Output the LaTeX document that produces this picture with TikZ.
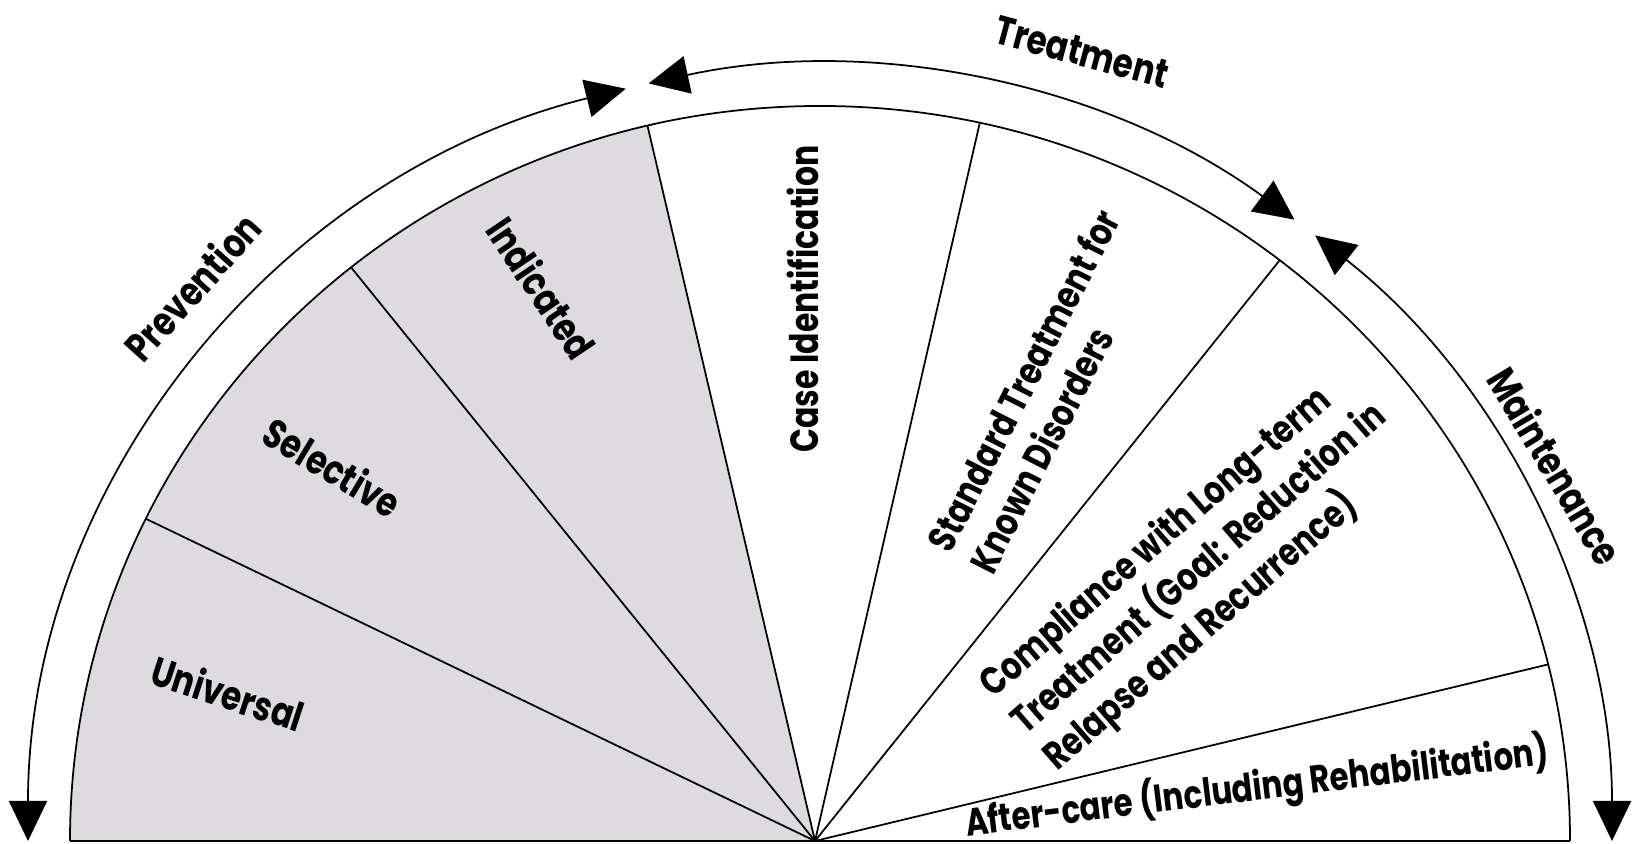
\documentclass[tikz,border=0pt]{standalone}
\usepackage{fontspec}
\setmainfont{Poppins}[FakeStretch=0.8]
\usetikzlibrary{calc,arrows.meta}
\definecolor{shadegray}{RGB}{221,219,224}

\begin{document}
\begin{tikzpicture}[
	lbl/.style={font=\bfseries\fontsize{11.5}{13.8}\selectfont, align=left, inner sep=0pt},
	spoke/.style={line width=0.5pt},
	span/.style={line width=0.5pt, {Triangle[length=4mm,width=3.8mm]}-{Triangle[length=4mm,width=3.8mm]}}
	]
	\useasboundingbox (0,0) rectangle (16.35,8.44);
	\coordinate (c) at (8.2,0.03);
	\coordinate (o) at (8.15,0.03);
	\coordinate (l) at ($(c)+(180:7.5 and 7.35)$);
	\coordinate (r) at ($(c)+(0:7.5 and 7.35)$);
	\foreach \a [count=\i] in {154,128.7,103.3,77.7,52.2,13.9}
		\coordinate (s\i) at ($(c)+(\a:7.5 and 7.35)$);
	\fill[shadegray] (o) -- (l) arc[start angle=180, end angle=103.3, x radius=7.5, y radius=7.35] -- cycle;
	\draw[spoke] (l) arc[start angle=180, end angle=0, x radius=7.5, y radius=7.35];
	\draw[spoke] (l) -- (r);
	\foreach \i in {1,...,6}
		\draw[spoke] (o) -- (s\i);
	\coordinate (p1) at ($(c)+(180:7.92 and 7.76)$);
	\coordinate (t1) at ($(c)+(102.5:7.92 and 7.76)$);
	\coordinate (m1) at ($(c)+(51.3:7.92 and 7.76)$);
	\draw[span] (p1) arc[start angle=180, end angle=104.2, x radius=7.92, y radius=7.76];
	\draw[span] (t1) arc[start angle=102.5, end angle=53.2, x radius=7.92, y radius=7.76];
	\draw[span] (m1) arc[start angle=51.3, end angle=0, x radius=7.92, y radius=7.76];
	\node[lbl, rotate=48] (prev) at (1.92,5.57) {Prevention};
	\node[lbl, rotate=-15] (treat) at (10.82,7.92) {Treatment};
	\node[lbl, rotate=-59] (maint) at (15.56,3.78) {Maintenance};
	\node[lbl, rotate=-18] (univ) at (2.28,1.51) {Universal};
	\node[lbl, rotate=-31] (sel) at (3.33,3.77) {Selective};
	\node[lbl, rotate=-56] (ind) at (5.42,5.56) {Indicated};
	\node[lbl, rotate=90, font=\bfseries\fontsize{11.2}{13.8}\selectfont] (caseid) at (8.03,5.45) {Case Identification};
	\node[lbl, rotate=63, font=\bfseries\fontsize{11}{13.5}\selectfont] (std) at (10.44,4.53) {Standard Treatment for\\Known Disorders};
	\node[lbl, rotate=41, font=\bfseries\fontsize{11}{13.8}\selectfont] (compl) at (12.0,2.74) {Compliance with Long-term\\Treatment (Goal: Reduction in\\Relapse and Recurrence)};
	\node[lbl, rotate=7, font=\bfseries\fontsize{11}{13.8}\selectfont] (after) at (12.57,0.56) {After-care (Including Rehabilitation)};
\end{tikzpicture}
\end{document}
